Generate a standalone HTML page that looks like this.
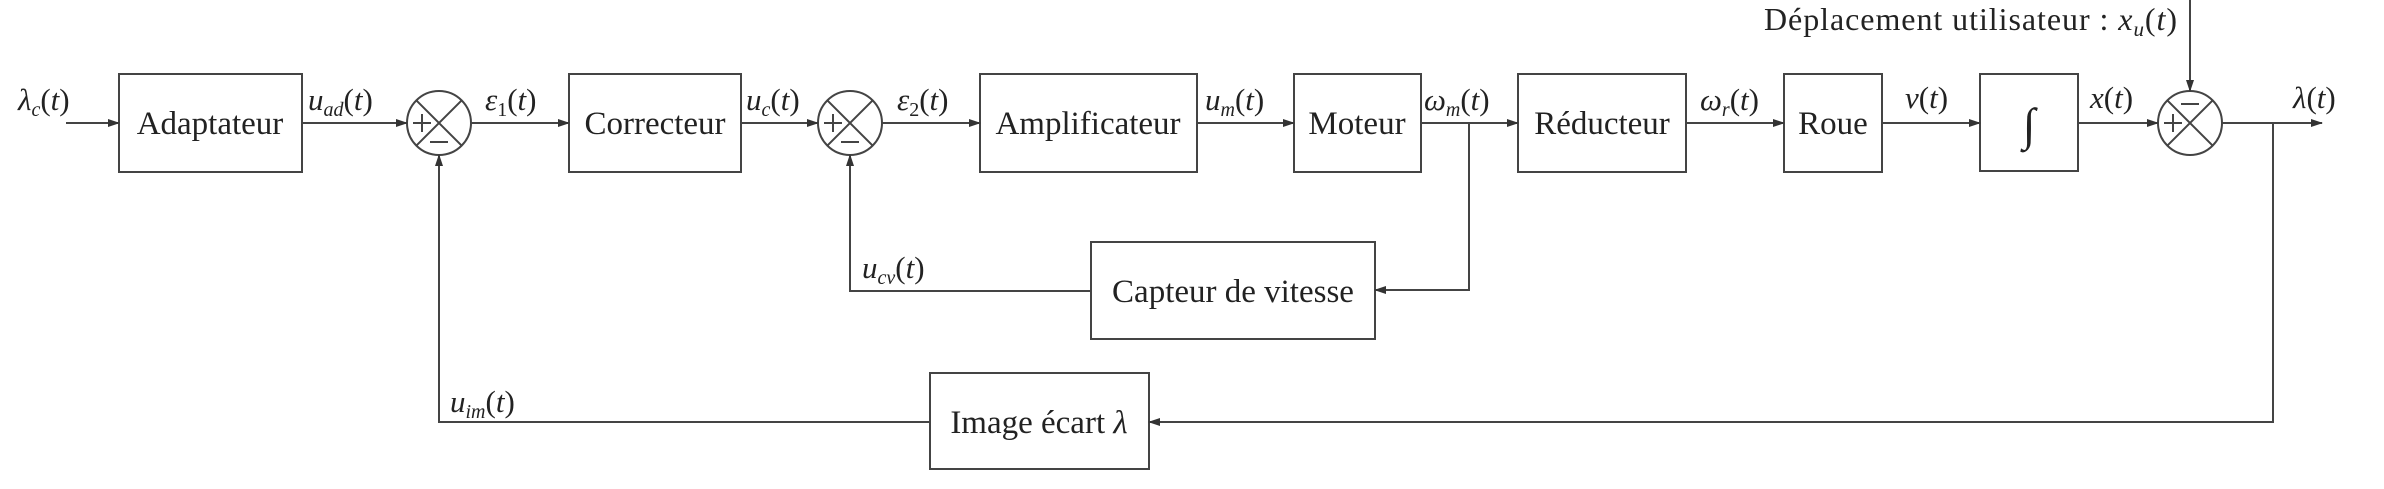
<!DOCTYPE html>
<html><head><meta charset="utf-8"><style>
html,body{margin:0;padding:0;background:#fff;}
svg{display:block;}
text{font-family:"Liberation Serif",serif;fill:#222;}
.m{font-style:italic;}
</style></head><body>
<svg width="2384" height="489" viewBox="0 0 2384 489" xmlns="http://www.w3.org/2000/svg">
<defs>
<marker id="a" markerWidth="12" markerHeight="10" refX="11" refY="5" orient="auto" markerUnits="userSpaceOnUse">
<path d="M0,1 L12,5 L0,9 Z" fill="#333"/></marker>
</defs>
<g stroke="#444" stroke-width="2" fill="none">
<rect x="119" y="74" width="183" height="98"/>
<rect x="569" y="74" width="172" height="98"/>
<rect x="980" y="74" width="217" height="98"/>
<rect x="1294" y="74" width="127" height="98"/>
<rect x="1518" y="74" width="168" height="98"/>
<rect x="1784" y="74" width="98" height="98"/>
<rect x="1980" y="74" width="98" height="97"/>
<rect x="1091" y="242" width="284" height="97"/>
<rect x="930" y="373" width="219" height="96"/>
<circle cx="439" cy="123" r="32"/>
<circle cx="850" cy="123" r="32"/>
<circle cx="2190" cy="123" r="32"/>
<path d="M416.4,100.4 L461.6,145.6 M461.6,100.4 L416.4,145.6"/>
<path d="M827.4,100.4 L872.6,145.6 M872.6,100.4 L827.4,145.6"/>
<path d="M2167.4,100.4 L2212.6,145.6 M2212.6,100.4 L2167.4,145.6"/>
<path d="M413,123 h18 M422,114 v18 M430,142 h18"/>
<path d="M824,123 h18 M833,114 v18 M841,142 h18"/>
<path d="M2164,123 h18 M2173,114 v18 M2181,104 h18"/>
<path d="M66,123 H119" marker-end="url(#a)"/>
<path d="M302,123 H407" marker-end="url(#a)"/>
<path d="M471,123 H569" marker-end="url(#a)"/>
<path d="M741,123 H818" marker-end="url(#a)"/>
<path d="M882,123 H980" marker-end="url(#a)"/>
<path d="M1197,123 H1294" marker-end="url(#a)"/>
<path d="M1421,123 H1518" marker-end="url(#a)"/>
<path d="M1686,123 H1784" marker-end="url(#a)"/>
<path d="M1882,123 H1980" marker-end="url(#a)"/>
<path d="M2078,123 H2158" marker-end="url(#a)"/>
<path d="M2222,123 H2322" marker-end="url(#a)"/>
<path d="M2190,0 V91" marker-end="url(#a)"/>
<path d="M1469,123 V290 H1375" marker-end="url(#a)"/>
<path d="M1091,291 H850 V155" marker-end="url(#a)"/>
<path d="M2273,123 V422 H1149" marker-end="url(#a)"/>
<path d="M930,422 H439 V155" marker-end="url(#a)"/>
</g>
<g font-size="33" text-anchor="middle">
<text x="210" y="134">Adaptateur</text>
<text x="655" y="134">Correcteur</text>
<text x="1088" y="134">Amplificateur</text>
<text x="1357" y="134">Moteur</text>
<text x="1602" y="134">Réducteur</text>
<text x="1833" y="134">Roue</text>
<text x="2029" y="140" font-size="46">∫</text>
<text x="1233" y="302">Capteur de vitesse</text>
<text x="1039" y="433">Image écart <tspan class="m">λ</tspan></text>
</g>
<g font-size="31">
<text x="18" y="110"><tspan class="m">λ</tspan><tspan class="m" font-size="20" dy="6">c</tspan><tspan dy="-6">(</tspan><tspan class="m">t</tspan>)</text>
<text x="308" y="110"><tspan class="m">u</tspan><tspan class="m" font-size="20" dy="6">ad</tspan><tspan dy="-6">(</tspan><tspan class="m">t</tspan>)</text>
<text x="485" y="110"><tspan class="m">ε</tspan><tspan font-size="20" dy="6">1</tspan><tspan dy="-6">(</tspan><tspan class="m">t</tspan>)</text>
<text x="746" y="110"><tspan class="m">u</tspan><tspan class="m" font-size="20" dy="6">c</tspan><tspan dy="-6">(</tspan><tspan class="m">t</tspan>)</text>
<text x="897" y="110"><tspan class="m">ε</tspan><tspan font-size="20" dy="6">2</tspan><tspan dy="-6">(</tspan><tspan class="m">t</tspan>)</text>
<text x="1205" y="110"><tspan class="m">u</tspan><tspan class="m" font-size="20" dy="6">m</tspan><tspan dy="-6">(</tspan><tspan class="m">t</tspan>)</text>
<text x="1424" y="110"><tspan class="m">ω</tspan><tspan class="m" font-size="20" dy="6">m</tspan><tspan dy="-6">(</tspan><tspan class="m">t</tspan>)</text>
<text x="1700" y="110"><tspan class="m">ω</tspan><tspan class="m" font-size="20" dy="6">r</tspan><tspan dy="-6">(</tspan><tspan class="m">t</tspan>)</text>
<text x="1905" y="108"><tspan class="m">v</tspan>(<tspan class="m">t</tspan>)</text>
<text x="2090" y="108"><tspan class="m">x</tspan>(<tspan class="m">t</tspan>)</text>
<text x="2293" y="108"><tspan class="m">λ</tspan>(<tspan class="m">t</tspan>)</text>
<text x="862" y="278"><tspan class="m">u</tspan><tspan class="m" font-size="20" dy="6">cv</tspan><tspan dy="-6">(</tspan><tspan class="m">t</tspan>)</text>
<text x="450" y="412"><tspan class="m">u</tspan><tspan class="m" font-size="20" dy="6">im</tspan><tspan dy="-6">(</tspan><tspan class="m">t</tspan>)</text>
</g>
<text x="1764" y="30" font-size="32" textLength="413" lengthAdjust="spacing">Déplacement utilisateur : <tspan class="m">x</tspan><tspan class="m" font-size="21" dy="6">u</tspan><tspan dy="-6">(</tspan><tspan class="m">t</tspan>)</text>
</svg>
</body></html>
